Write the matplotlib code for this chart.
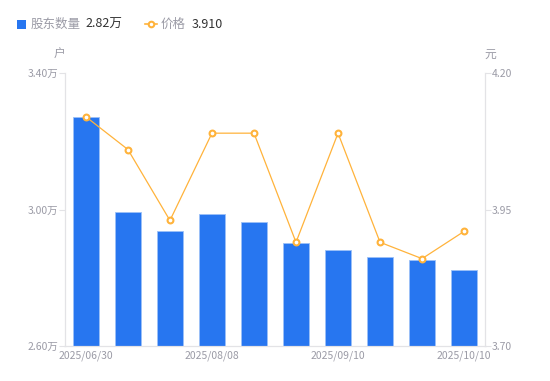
import matplotlib.pyplot as plt
from matplotlib.lines import Line2D
from matplotlib.patches import Rectangle

plt.rcParams['font.family'] = ['Noto Sans CJK SC', 'DejaVu Sans']

dates = ['2025/06/30', '2025/07/10', '2025/07/21', '2025/08/08', '2025/08/20',
         '2025/08/29', '2025/09/10', '2025/09/19', '2025/09/30', '2025/10/10']
holders = [3.271, 2.993, 2.937, 2.987, 2.963, 2.902, 2.881, 2.861, 2.852, 2.823]  # 万户
price = [4.12, 4.06, 3.93, 4.09, 4.09, 3.89, 4.09, 3.89, 3.86, 3.91]
shown_ticks = [0, 3, 6, 9]

BLUE = '#2776F0'
ORANGE = '#FFB33B'
GRAY = '#9B9BA6'
AXIS = '#E3E3E6'

fig = plt.figure(figsize=(5.5, 3.81), dpi=100)
ax = fig.add_axes([0.118, 0.092, 0.764, 0.716])
ax2 = ax.twinx()

x = list(range(len(dates)))
ax.bar(x, holders, width=0.6, color=BLUE, edgecolor='#9CC1F7', linewidth=0.6, zorder=2)
ax2.plot(x, price, color=ORANGE, lw=0.9, marker='o', ms=4.2, mfc='white',
         mec=ORANGE, mew=1.5, zorder=3)

ax.set_xlim(-0.5, len(dates) - 0.5)
ax.set_ylim(2.60, 3.40)
ax2.set_ylim(3.70, 4.20)
ax.set_yticks([2.60, 3.00, 3.40])
ax.set_yticklabels([f'{v:.2f}万' for v in [2.60, 3.00, 3.40]])
ax2.set_yticks([3.70, 3.95, 4.20])
ax2.set_yticklabels([f'{v:.2f}' for v in [3.70, 3.95, 4.20]])
ax.set_xticks(shown_ticks)
ax.set_xticklabels([dates[i] for i in shown_ticks])

for a in (ax, ax2):
    for s in a.spines.values():
        s.set_color(AXIS)
    a.spines['top'].set_visible(False)
    a.tick_params(colors=AXIS, labelcolor=GRAY, labelsize=7.5, length=4, width=0.8)
ax.tick_params(axis='x', length=0, pad=3)
ax.tick_params(axis='y', pad=1)
ax2.tick_params(axis='y', pad=1)
ax.set_zorder(ax2.get_zorder() - 1)
ax.patch.set_visible(False)
ax2.patch.set_visible(False)

fig.text(0.109, 0.848, '户', color=GRAY, fontsize=8.5, ha='center')
fig.text(0.891, 0.848, '元', color=GRAY, fontsize=8.5, ha='center')

# legend row
ly = 0.936
fig.add_artist(Rectangle((17 / 550, ly - 4.5 / 381), 9 / 550, 9 / 381,
                         transform=fig.transFigure, color=BLUE, lw=0))
fig.text(31 / 550, ly, '股东数量', color=GRAY, fontsize=9, va='center')
fig.text(85 / 550, ly, f'{holders[-1]:.2f}万', color='#333333', fontsize=9, va='center')
fig.add_artist(Line2D([145 / 550, 157 / 550], [ly, ly], color=ORANGE, lw=1.2))
fig.add_artist(Line2D([151 / 550], [ly], color=ORANGE, marker='o', ms=4,
                      mfc='white', mec=ORANGE, mew=1.5))
fig.text(161 / 550, ly, '价格', color=GRAY, fontsize=9, va='center')
fig.text(192 / 550, ly, f'{price[-1]:.3f}', color='#333333', fontsize=9, va='center')

fig.savefig('out.png', dpi=100)
